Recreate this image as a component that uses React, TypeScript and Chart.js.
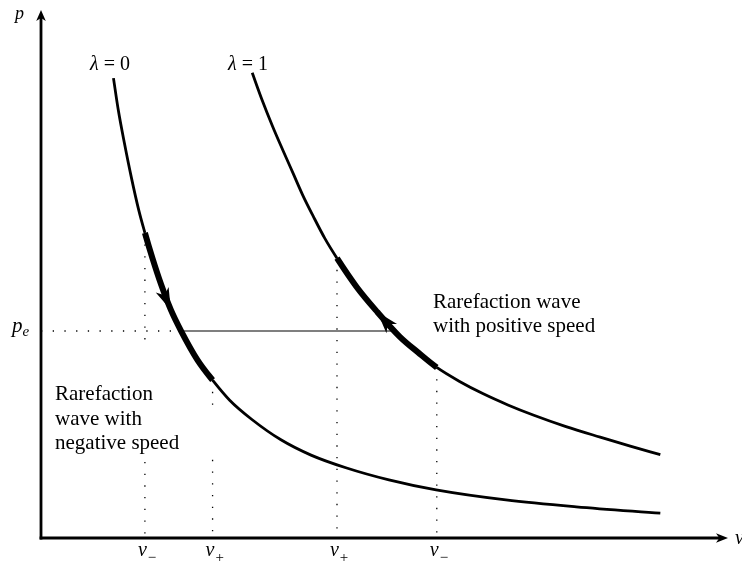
import React, { useEffect, useRef } from "react";
import { Chart, registerables } from "chart.js";

Chart.register(...registerables);

// ---- data (v and p in arbitrary units) ----
const lambda0V = [1.06, 1.13, 1.22, 1.32, 1.43, 1.52, 1.63, 1.76, 1.90, 2.05, 2.29, 2.51, 2.76, 3.09, 3.51, 3.95, 4.46, 5.09, 5.78, 6.80, 7.83, 9.06];
const lambda0P = [8.71, 8.11, 7.48, 6.84, 6.21, 5.78, 5.30, 4.79, 4.32, 3.92, 3.37, 2.99, 2.61, 2.24, 1.86, 1.57, 1.33, 1.10, 0.91, 0.72, 0.59, 0.47];
const lambda1V = [3.09, 3.23, 3.39, 3.54, 3.69, 3.83, 3.98, 4.15, 4.33, 4.62, 4.92, 5.25, 5.52, 5.79, 6.13, 6.47, 6.83, 7.20, 7.68, 8.18, 8.62, 9.06];
const lambda1P = [8.81, 8.31, 7.79, 7.34, 6.90, 6.49, 6.10, 5.68, 5.30, 4.75, 4.28, 3.81, 3.51, 3.23, 2.96, 2.73, 2.52, 2.33, 2.11, 1.91, 1.74, 1.58];
const curveLabels = ["0", "1"];

const vTickValues = [1.52, 2.51, 4.33, 5.79];
const vTickSubs = ["\u2212", "+", "+", "\u2212"];
const peValue = 3.92;
const peLineV = [2.05, 5.17];
const rareRanges = [
  [1.52, 2.51],
  [4.33, 5.79],
];

// dotted guides: v, from p, to p
const guideV = [1.52, 1.52, 2.51, 2.51, 4.33, 5.79];
const guideFrom = [5.78, 1.44, 2.99, 1.48, 5.30, 3.23];
const guideTo = [3.62, 0, 2.52, 0, 0, 0];

// arrows on the curves: curve, point index, direction
const arrowCurve = [0, 1];
const arrowIndex = [8, 10];
const arrowDir = [1, -1];

const textPositive = ["Rarefaction wave", "with positive speed"];
const textNegative = ["Rarefaction", "wave with", "negative speed"];

const SERIF = "'Liberation Serif', 'Times New Roman', serif";

function head(ctx: CanvasRenderingContext2D, x: number, y: number, ang: number, L: number, W: number) {
  const c = Math.cos(ang), s = Math.sin(ang);
  const p = (u: number, w: number) => [x + u * c - w * s, y + u * s + w * c];
  ctx.beginPath();
  ctx.moveTo(x, y);
  let q = p(-L, W); ctx.lineTo(q[0], q[1]);
  q = p(-L * 0.72, 0); ctx.lineTo(q[0], q[1]);
  q = p(-L, -W); ctx.lineTo(q[0], q[1]);
  ctx.closePath();
  ctx.fill();
}

export default function App() {
  const ref = useRef<HTMLCanvasElement>(null);

  useEffect(() => {
    const canvas = ref.current!;
    const pts = (vs: number[], ps: number[]) => vs.map((v, i) => ({ x: v, y: ps[i] }));
    const curves = [pts(lambda0V, lambda0P), pts(lambda1V, lambda1P)];

    const curveDs = (i: number) => ({
      label: "lambda" + i,
      data: curves[i],
      borderColor: "#000",
      pointRadius: 0,
      fill: false,
      cubicInterpolationMode: "monotone",
      borderWidth: 2.8,
      borderJoinStyle: "round",
      segment: {
        borderWidth: (c: any) => {
          const r = rareRanges[i];
          return c.p0.parsed.x >= r[0] - 1e-9 && c.p1.parsed.x <= r[1] + 1e-9 ? 6 : 2.8;
        },
      },
    });
    const dotted: any = {
      borderColor: "#000",
      pointRadius: 0,
      fill: false,
      borderWidth: 1.3,
      borderDash: [1.3, 10.4],
    };

    const datasets: any[] = [
      curveDs(0),
      curveDs(1),
      {
        label: "pe",
        data: [{ x: peLineV[0], y: peValue }, { x: peLineV[1], y: peValue }],
        borderColor: "#000",
        borderWidth: 1.2,
        pointRadius: 0,
        fill: false,
      },
      { ...dotted, label: "pe-dotted", data: [{ x: 0, y: peValue }, { x: peLineV[0], y: peValue }] },
      ...guideV.map((v, i) => ({
        ...dotted,
        label: "guide" + i,
        data: [{ x: v, y: guideFrom[i] }, { x: v, y: guideTo[i] }],
      })),
    ];

    const decor = {
      id: "decor",
      afterDatasetsDraw(chart: any) {
        const { ctx, chartArea: a } = chart;
        const xs = chart.scales.x, ys = chart.scales.y;
        const X = (v: number) => xs.getPixelForValue(v);
        const Y = (p: number) => ys.getPixelForValue(p);
        ctx.save();
        ctx.strokeStyle = "#000";
        ctx.fillStyle = "#000";
        // axes
        const ox = X(0), oy = Y(0);
        ctx.lineWidth = 2.8;
        ctx.lineCap = "butt";
        ctx.beginPath();
        ctx.moveTo(ox, oy + 1.4);
        ctx.lineTo(ox, a.top + 8);
        ctx.stroke();
        ctx.beginPath();
        ctx.moveTo(ox - 1.4, oy);
        ctx.lineTo(a.right - 8, oy);
        ctx.stroke();
        head(ctx, ox, a.top, -Math.PI / 2, 11, 4.8);
        head(ctx, a.right, oy, 0, 12, 4.8);

        // arrows on curves
        arrowCurve.forEach((ci, k) => {
          const d = curves[ci];
          const i = arrowIndex[k];
          const tx = X(d[i].x), ty = Y(d[i].y);
          const dx = X(d[i + 1].x) - X(d[i - 1].x);
          const dy = Y(d[i + 1].y) - Y(d[i - 1].y);
          let ang = Math.atan2(dy, dx);
          if (arrowDir[k] < 0) ang += Math.PI;
          head(ctx, tx, ty, ang, 22, 7);
        });

        ctx.textBaseline = "alphabetic";
        ctx.textAlign = "left";

        // axis labels
        ctx.font = `italic 18px ${SERIF}`;
        ctx.fillText("p", 15, 19);
        ctx.font = `italic 20px ${SERIF}`;
        ctx.fillText("v", 735, 544);

        // p_e
        ctx.font = `italic 21px ${SERIF}`;
        const pey = Y(peValue);
        ctx.fillText("p", 12, pey + 1);
        const pw = ctx.measureText("p").width;
        ctx.font = `italic 15px ${SERIF}`;
        ctx.fillText("e", 12 + pw, pey + 5);

        // v ticks
        vTickValues.forEach((v, i) => {
          const x = X(v);
          ctx.font = `italic 20px ${SERIF}`;
          ctx.fillText("v", x - 7, 556);
          const w = ctx.measureText("v").width;
          ctx.font = `15px ${SERIF}`;
          ctx.fillText(vTickSubs[i], x - 6 + w, 562);
        });

        // lambda labels
        const lamX = [90, 228];
        curveLabels.forEach((lab, i) => {
          ctx.font = `italic 20px ${SERIF}`;
          ctx.fillText("\u03bb", lamX[i], 70);
          const w = ctx.measureText("\u03bb").width;
          ctx.font = `20px ${SERIF}`;
          ctx.fillText(" = " + lab, lamX[i] + w, 70);
        });

        // annotations
        ctx.font = `21px ${SERIF}`;
        textPositive.forEach((t, i) => ctx.fillText(t, 433, 308 + i * 23.5));
        textNegative.forEach((t, i) => ctx.fillText(t, 55, 400 + i * 24.5));

        ctx.restore();
      },
    };

    const chart = new Chart(canvas, {
      type: "line",
      data: { datasets },
      options: {
        animation: false,
        responsive: false,
        events: [],
        layout: { padding: { left: 41, right: 14, top: 10, bottom: 30 } },
        scales: {
          x: { type: "linear", min: 0, max: 10.05, display: false },
          y: { type: "linear", min: 0, max: 10, display: false },
        },
        plugins: { legend: { display: false }, tooltip: { enabled: false } },
      },
      plugins: [decor],
    } as any);

    return () => chart.destroy();
  }, []);

  return (
    <div style={{ position: "fixed", left: 0, top: 0, width: 742, height: 568, background: "#fff" }}>
      <canvas ref={ref} width={742} height={568} style={{ display: "block" }} />
    </div>
  );
}
